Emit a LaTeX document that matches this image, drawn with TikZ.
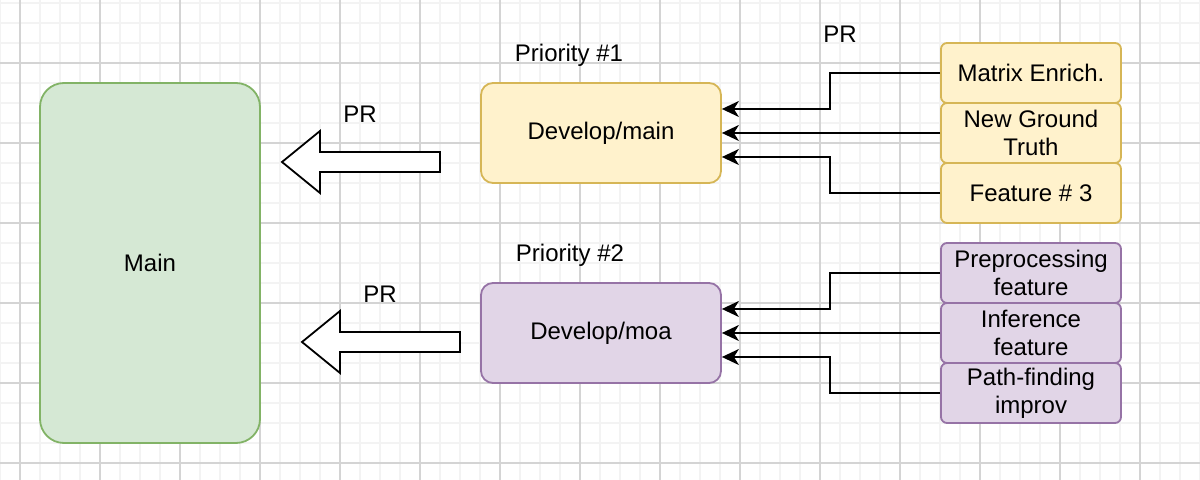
\documentclass[tikz,border=0pt]{standalone}
\usepackage{fontspec}
\setmainfont{Liberation Sans}
\usetikzlibrary{arrows.meta,positioning}
\definecolor{mainfill}{HTML}{D5E8D4}
\definecolor{mainline}{HTML}{82B366}
\definecolor{devfill}{HTML}{FFF2CC}
\definecolor{devline}{HTML}{D6B656}
\definecolor{moafill}{HTML}{E1D5E7}
\definecolor{moaline}{HTML}{9673A6}
\definecolor{gridminor}{HTML}{F3F3F3}
\definecolor{gridmajor}{HTML}{D4D4D4}
\tikzset{txt/.style={font=\fontsize{12}{14}\selectfont,align=center,inner sep=1pt}, trunk/.style={txt,draw=mainline,fill=mainfill,line width=0.9pt,rounded corners=12pt,minimum width=110pt,minimum height=180pt}, devbox/.style={txt,draw=devline,fill=devfill,line width=0.9pt,rounded corners=6pt,minimum width=120pt,minimum height=50pt}, moabox/.style={devbox,draw=moaline,fill=moafill}, featbox/.style={txt,draw=devline,fill=devfill,line width=0.9pt,rounded corners=3pt,minimum width=90pt,minimum height=30pt}, moafeat/.style={featbox,draw=moaline,fill=moafill}, arr/.style={-{Stealth[length=8.5pt,width=8pt,inset=2.5pt]},line width=0.9pt}, blk/.style={draw=black,fill=white,line width=0.9pt,line join=miter}}

\begin{document}
\begin{tikzpicture}[x=0.5pt,y=-0.5pt,node distance=-0.9pt]
\useasboundingbox (0,0) rectangle (1200,480);
\fill[white] (0,0) rectangle (1200,480);
% grid
\foreach \x in {0,20,...,1200} \draw[gridminor,line width=0.9pt] (\x,0) -- (\x,480);
\foreach \y in {3,23,...,480} \draw[gridminor,line width=0.9pt] (0,\y) -- (1200,\y);
\foreach \x in {20,100,...,1200} \draw[gridmajor,line width=0.6pt] (\x,0) -- (\x,480);
\foreach \y in {63,143,...,480} \draw[gridmajor,line width=0.6pt] (0,\y) -- (1200,\y);
% branches
\node[trunk] (m) at (150,263) {Main};
\node[devbox] (dm) at (601,133) {Develop/main};
\node[moabox] (dv) at (601,333) {Develop/moa};
\node[txt] (p1) at (569,55) {Priority \#1};
\node[txt] (p2) at (570,255) {Priority \#2};
\node[txt] (pr0) at (840,34) {PR};
% features
\node[featbox] (f1) at (1031,73) {Matrix Enrich.};
\node[featbox,below=of f1] (f2) {New Ground\\Truth};
\node[featbox,below=of f2] (f3) {Feature \# 3};
\node[moafeat] (g1) at (1031,273) {Preprocessing\\feature};
\node[moafeat,below=of g1] (g2) {Inference\\feature};
\node[moafeat,below=of g2] (g3) {Path-finding\\improv};
\draw[arr] (f1.west) -- ++(-55pt,0) |- ([yshift=12pt]dm.east);
\draw[arr] (f2.west) -- (dm.east);
\draw[arr] (f3.west) -- ++(-55pt,0) |- ([yshift=-12pt]dm.east);
\draw[arr] (g1.west) -- ++(-55pt,0) |- ([yshift=12pt]dv.east);
\draw[arr] (g2.west) -- (dv.east);
\draw[arr] (g3.west) -- ++(-55pt,0) |- ([yshift=-12pt]dv.east);
% merge arrows
\coordinate (a1) at (282,162);
\coordinate (a2) at (302,342);
\draw[blk] (a1) -- ++(38,-31) -- ++(0,21) -- ++(120,0) -- ++(0,20) -- ++(-120,0) -- ++(0,21) -- cycle;
\draw[blk] (a2) -- ++(38,-31) -- ++(0,21) -- ++(120,0) -- ++(0,20) -- ++(-120,0) -- ++(0,21) -- cycle;
\node[txt] (pr1) at (360,114) {PR};
\node[txt] (pr2) at (380,294) {PR};
\end{tikzpicture}
\end{document}
